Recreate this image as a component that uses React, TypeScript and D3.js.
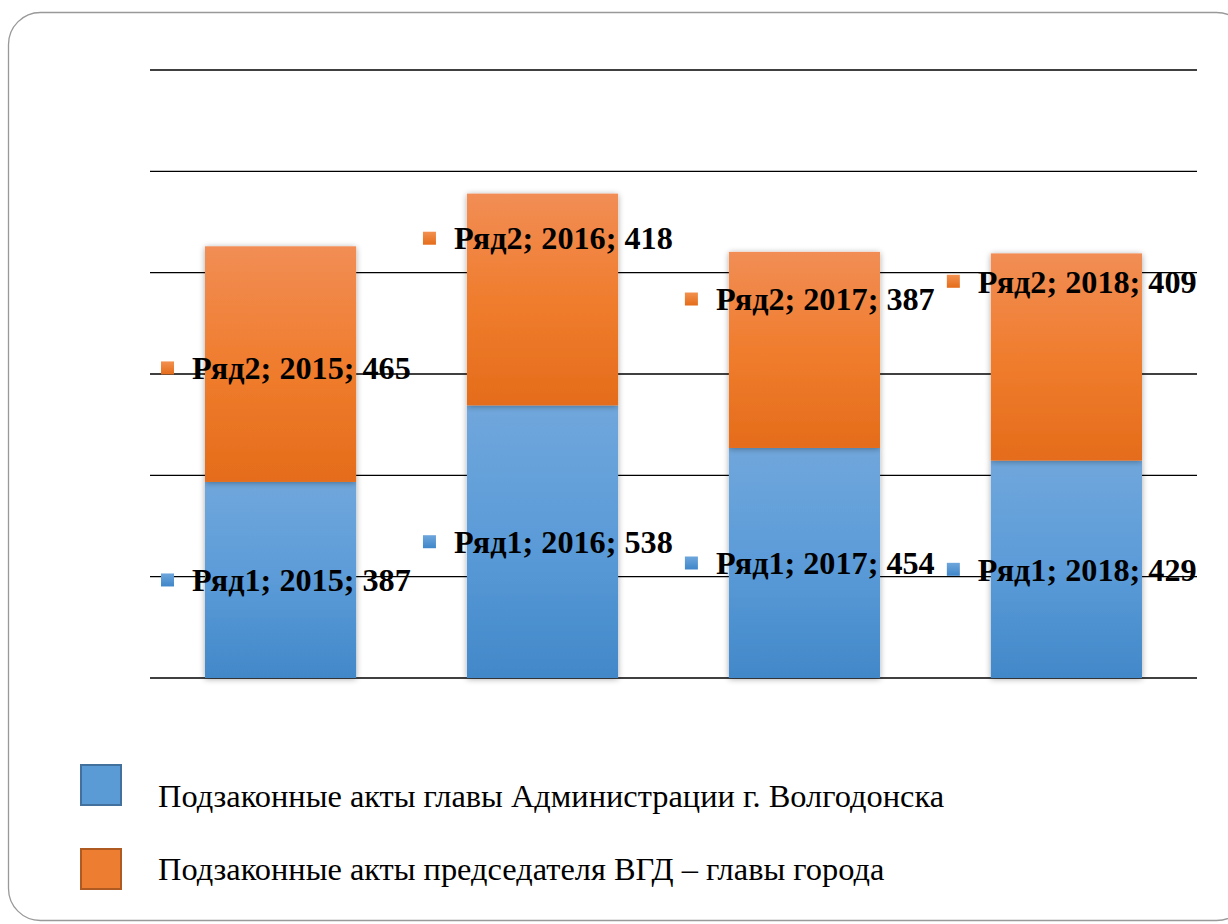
import React from 'react';
import * as d3 from 'd3';

const years = ['2015', '2016', '2017', '2018'];
const series1 = [387, 538, 454, 429];
const series2 = [465, 418, 387, 409];
const seriesNames = ['Ряд1', 'Ряд2'];
const legendLabels = [
  'Подзаконные акты главы Администрации г. Волгодонска',
  'Подзаконные акты председателя ВГД – главы города',
];
// where Excel left the Ряд2 labels (value units), Ряд1 sit at segment centre
const series2LabelAt = [612, 868, 748, 783];
const yTicks = [0, 200, 400, 600, 800, 1000, 1200];

const App = () => {
  const width = 1228;
  const height = 924;
  const marginLeft = 150;
  const marginRight = 31;
  const plotTop = 70;
  const plotBottom = 678;

  const x = d3.scaleBand<string>()
    .domain(years)
    .range([marginLeft, width - marginRight])
    .paddingInner(0.423)
    .paddingOuter(0.21);

  const y = d3.scaleLinear([0, 1200], [plotBottom, plotTop]);

  const rows = years.map((year, i) => ({ year, s1: series1[i], s2: series2[i] }));
  const stacked = d3.stack<any>().keys(['s1', 's2'])(rows);

  const fills = ['url(#gBlue)', 'url(#gOrange)'];
  const markFills = ['url(#mBlue)', 'url(#mOrange)'];
  const labelFont = '"Liberation Serif", "Times New Roman", serif';

  const labels: { key: string; name: string; year: string; value: number; yPos: number; series: number }[] = [];
  years.forEach((year, i) => {
    labels.push({ key: `a${i}`, name: seriesNames[0], year, value: series1[i], yPos: y(series1[i] / 2), series: 0 });
    labels.push({ key: `b${i}`, name: seriesNames[1], year, value: series2[i], yPos: y(series2LabelAt[i]), series: 1 });
  });

  return (
    <svg width={width} height={height} viewBox={`0 0 ${width} ${height}`}
      style={{ display: 'block', position: 'absolute', left: 0, top: 0 }}>
      <defs>
        <linearGradient id="gBlue" x1="0" y1="0" x2="0" y2="1">
          <stop offset="0" stopColor="#70a7dc" />
          <stop offset="0.5" stopColor="#5b9bd8" />
          <stop offset="1" stopColor="#4288c9" />
        </linearGradient>
        <linearGradient id="gOrange" x1="0" y1="0" x2="0" y2="1">
          <stop offset="0" stopColor="#f18d55" />
          <stop offset="0.5" stopColor="#f07d2e" />
          <stop offset="1" stopColor="#e46c1a" />
        </linearGradient>
        <linearGradient id="mBlue" x1="0" y1="0" x2="0" y2="1">
          <stop offset="0" stopColor="#6ea6dc" />
          <stop offset="1" stopColor="#3f86c9" />
        </linearGradient>
        <linearGradient id="mOrange" x1="0" y1="0" x2="0" y2="1">
          <stop offset="0" stopColor="#f3914f" />
          <stop offset="1" stopColor="#e46c1a" />
        </linearGradient>
        <filter id="shadow" x="-10%" y="-5%" width="120%" height="110%">
          <feGaussianBlur in="SourceAlpha" stdDeviation="3" />
          <feOffset dx="0" dy="1" result="b" />
          <feComponentTransfer><feFuncA type="linear" slope="0.35" /></feComponentTransfer>
          <feMerge><feMergeNode /><feMergeNode in="SourceGraphic" /></feMerge>
        </filter>
      </defs>

      <rect x={8.5} y={12.5} width={1240} height={908} rx={32} fill="#fff" stroke="#999" strokeWidth={1.3} />

      {yTicks.map(t => (
        <line key={t} x1={marginLeft} x2={width - marginRight} y1={y(t)} y2={y(t)} stroke="#000" strokeWidth={1.4} />
      ))}

      {stacked.map((layer, si) => (
        <g key={si} filter="url(#shadow)">
          {layer.map((d, i) => (
            <rect key={i}
              x={x(years[i])}
              width={x.bandwidth()}
              y={y(d[1])}
              height={y(d[0]) - y(d[1])}
              fill={fills[si]} />
          ))}
        </g>
      ))}

      {labels.map(l => {
        const lx = (x(l.year) as number) - 44;
        return (
          <g key={l.key}>
            <rect x={lx} y={l.yPos - 6.5} width={13} height={13} fill={markFills[l.series]} />
            <text x={lx + 31} y={l.yPos} dy="0.35em" fontFamily={labelFont} fontWeight="bold" fontSize={32.2} fill="#000">
              {`${l.name}; ${l.year}; ${l.value}`}
            </text>
          </g>
        );
      })}

      {legendLabels.map((txt, i) => (
        <g key={i}>
          <rect x={81} y={765 + i * 84} width={40} height={40}
            fill={i === 0 ? '#5b9bd5' : '#ed7d31'}
            stroke={i === 0 ? '#41719c' : '#ae5a21'} strokeWidth={2} />
          <text x={158} y={807 + i * 73} fontFamily={labelFont} fontSize={32.4} fill="#000">{txt}</text>
        </g>
      ))}
    </svg>
  );
};

export default App;
